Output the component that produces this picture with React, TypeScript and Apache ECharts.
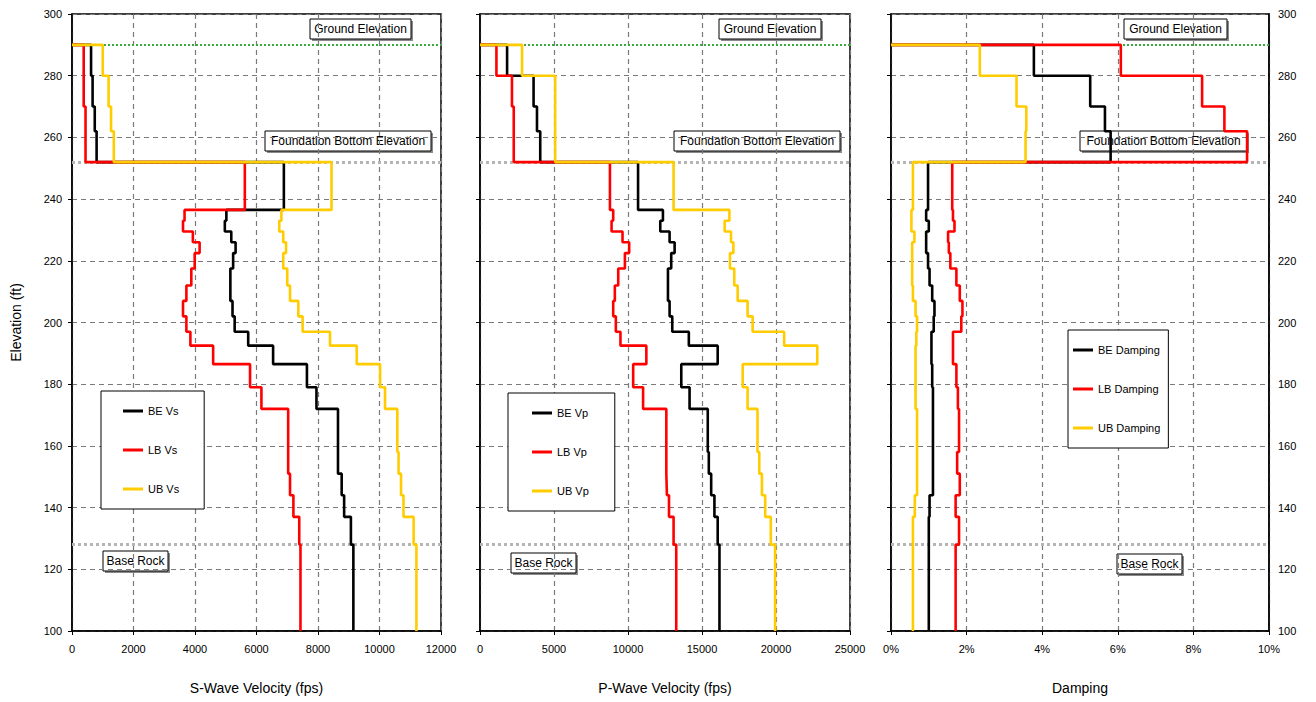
import React, { useEffect, useRef } from "react";
import * as echarts from "echarts";

// Layer tops (elevation, ft), top-down; the last layer ends at profileBottom
const layerTops = [290, 280, 270, 262, 252, 236.5, 233, 229.5, 226, 222.5, 217.5, 212, 207, 202, 197, 192.5, 186.5, 179, 172, 165, 158, 151, 144, 137, 128];
const profileBottom = 100;

// S-wave velocity (fps)
const vsBE = [620, 670, 740, 800, 6890, 5020, 4970, 5180, 5320, 5240, 5150, 5150, 5220, 5290, 5730, 6540, 7640, 7950, 8650, 8650, 8650, 8770, 8850, 9070, 9150];
const vsLB = [380, 380, 440, 440, 5620, 3660, 3610, 3930, 4150, 3990, 3880, 3720, 3610, 3720, 3850, 4590, 5790, 6160, 7030, 7030, 7030, 7090, 7200, 7390, 7430];
const vsUB = [1000, 1190, 1270, 1360, 8440, 6810, 6740, 6870, 6960, 6870, 7000, 7090, 7360, 7500, 8390, 9260, 10020, 10180, 10580, 10580, 10620, 10700, 10780, 11110, 11200];

// P-wave velocity (fps)
const vpBE = [1830, 3620, 3850, 4070, 10680, 12360, 12180, 12810, 13150, 12920, 12700, 12700, 12810, 12990, 14110, 16060, 13600, 14160, 15390, 15390, 15460, 15620, 15840, 16060, 16180];
const vpLB = [1110, 2160, 2280, 2280, 8780, 9000, 8890, 9630, 10080, 9790, 9340, 9110, 9000, 9180, 9490, 11240, 10350, 11020, 12590, 12590, 12590, 12630, 12770, 13080, 13260];
const vpUB = [2840, 5080, 5080, 5080, 13080, 16850, 16530, 16960, 17120, 16890, 17180, 17410, 18080, 18420, 20550, 22790, 17750, 18080, 18750, 18750, 18870, 19050, 19270, 19650, 19940];

// Damping (%)
const dBE = [3.78, 5.27, 5.66, 5.81, 0.98, 0.93, 1.0, 0.93, 0.93, 0.98, 1.02, 1.09, 1.15, 1.13, 1.07, 1.07, 1.09, 1.11, 1.11, 1.11, 1.11, 1.11, 1.02, 1.0, 1.0];
const dLB = [6.08, 8.23, 8.82, 9.42, 1.62, 1.64, 1.68, 1.51, 1.53, 1.57, 1.73, 1.82, 1.89, 1.86, 1.64, 1.64, 1.73, 1.77, 1.8, 1.8, 1.75, 1.82, 1.71, 1.8, 1.71];
const dUB = [2.35, 3.32, 3.58, 3.56, 0.58, 0.54, 0.54, 0.62, 0.56, 0.56, 0.56, 0.58, 0.65, 0.69, 0.67, 0.65, 0.65, 0.65, 0.69, 0.69, 0.69, 0.69, 0.63, 0.58, 0.58];

// Reference elevations
const groundElev = 290;
const foundationElev = 252;
const baseRockElev = 128;

// Axis settings
const elevMin = 100;
const elevMax = 300;
const elevStep = 20;
const vsTicks = { min: 0, max: 12000, interval: 2000 };
const vpTicks = { min: 0, max: 25000, interval: 5000 };
const dTicks = { min: 0, max: 10, interval: 2 };

const FONT = "'Liberation Sans', Arial, sans-serif";

// annotation boxes layout (pixels)
const notes = [
  { text: "Ground Elevation", x: 310, y: 19, w: 101, h: 20 },
  { text: "Foundation Bottom Elevation", x: 265, y: 131, w: 166, h: 20 },
  { text: "Base Rock", x: 103, y: 551, w: 65, h: 20 },
  { text: "Ground Elevation", x: 719, y: 19, w: 102, h: 20 },
  { text: "Foundation Bottom Elevation", x: 674, y: 131, w: 166, h: 20 },
  { text: "Base Rock", x: 511, y: 553, w: 65, h: 20 },
  { text: "Ground Elevation", x: 1124, y: 19, w: 103, h: 20 },
  { text: "Foundation Bottom Elevation", x: 1080, y: 131, w: 167, h: 20 },
  { text: "Base Rock", x: 1117, y: 554, w: 65, h: 20 },
];

function profile(values: number[]) {
  const pts: number[][] = [[0, layerTops[0]]];
  values.forEach((v, i) => {
    const top = layerTops[i];
    const bot = i + 1 < layerTops.length ? layerTops[i + 1] : profileBottom;
    pts.push([v, top], [v, bot]);
  });
  return pts;
}

export default function App() {
  const ref = useRef<HTMLDivElement>(null);
  useEffect(() => {
    if (!ref.current) return;
    const chart = echarts.init(ref.current, null, { renderer: "svg" });

    const grids = [
      { left: 72, top: 14, width: 369, height: 617 },
      { left: 480, top: 14, width: 370, height: 617 },
      { left: 891, top: 14, width: 378, height: 617 },
    ].map((g) => ({ ...g, show: true, borderColor: "#000", borderWidth: 1.5, backgroundColor: "#fff" }));

    const splitLine = { show: true, lineStyle: { color: "#7a7a7a", type: [5, 4] as any, width: 1.2 } };
    const axisLine = { show: true, onZero: false, lineStyle: { color: "#000", width: 1.5 } };
    const axisLabel = { color: "#000", fontSize: 11, fontFamily: FONT };
    const nameStyle = { color: "#000", fontSize: 14, fontFamily: FONT };

    const mkX = (gi: number, t: any, name: string, suffix: string) => ({
      type: "value",
      gridIndex: gi,
      min: t.min,
      max: t.max,
      interval: t.interval,
      name,
      nameLocation: "middle",
      nameGap: 50,
      nameTextStyle: nameStyle,
      axisLine,
      axisTick: { show: true, inside: false, length: 4, lineStyle: { color: "#000" } },
      axisLabel: { ...axisLabel, margin: 12, formatter: (v: number) => String(v) + suffix },
      splitLine,
    });

    const mkY = (gi: number, opts: any) => ({
      type: "value",
      gridIndex: gi,
      min: elevMin,
      max: elevMax,
      interval: elevStep,
      axisLine,
      axisTick: { show: true, inside: false, length: 4, lineStyle: { color: "#000" } },
      axisLabel: { ...axisLabel, margin: 10, formatter: (v: number) => String(v) },
      splitLine,
      ...opts,
    });

    const xAxis = [
      mkX(0, vsTicks, "S-Wave Velocity (fps)", ""),
      mkX(1, vpTicks, "P-Wave Velocity (fps)", ""),
      mkX(2, dTicks, "Damping", "%"),
    ];
    const yAxis = [
      mkY(0, { name: "Elevation (ft)", nameLocation: "middle", nameGap: 49, nameTextStyle: nameStyle }),
      mkY(1, { axisLabel: { show: false } }),
      mkY(2, { axisLabel: { show: false } }),
      mkY(2, {
        position: "right",
        axisTick: { show: false },
        splitLine: { show: false },
        axisLabel: { ...axisLabel, margin: 9, formatter: (v: number) => String(v) },
      }),
    ];

    const refLines = (xi: number, yi: number) => ({
      type: "line",
      xAxisIndex: xi,
      yAxisIndex: yi,
      data: [],
      silent: true,
      z: 1,
      markLine: {
        silent: true,
        symbol: "none",
        label: { show: false },
        z: 1,
        data: [
          { yAxis: groundElev, lineStyle: { color: "#3aaa3a", type: "dotted", width: 2 } },
          { yAxis: foundationElev, lineStyle: { color: "#b5b5b5", type: "dotted", width: 3 } },
          { yAxis: baseRockElev, lineStyle: { color: "#b5b5b5", type: "dotted", width: 3 } },
        ],
      },
    });

    const colors = { BE: "#000000", LB: "#ff0000", UB: "#ffcc00" };
    const mkS = (name: string, color: string, vals: number[], xi: number, yi: number) => ({
      type: "line",
      name,
      xAxisIndex: xi,
      yAxisIndex: yi,
      data: profile(vals),
      symbol: "none",
      z: 3,
      lineStyle: { color, width: 2.6 },
      itemStyle: { color },
    });

    const series: any[] = [
      refLines(0, 0),
      refLines(1, 1),
      refLines(2, 2),
      mkS("BE Vs", colors.BE, vsBE, 0, 0),
      mkS("LB Vs", colors.LB, vsLB, 0, 0),
      mkS("UB Vs", colors.UB, vsUB, 0, 0),
      mkS("BE Vp", colors.BE, vpBE, 1, 1),
      mkS("LB Vp", colors.LB, vpLB, 1, 1),
      mkS("UB Vp", colors.UB, vpUB, 1, 1),
      mkS("BE Damping", colors.BE, dBE, 2, 2),
      mkS("LB Damping", colors.LB, dLB, 2, 2),
      mkS("UB Damping", colors.UB, dUB, 2, 2),
    ];

    const mkLegend = (names: string[], left: number, top: number, padding: number[]) => ({
      data: names.map((n) => ({ name: n, icon: "rect" })),
      left,
      top,
      orient: "vertical",
      itemGap: 25,
      itemWidth: 20,
      itemHeight: 3,
      padding,
      borderColor: "#000",
      borderWidth: 1,
      backgroundColor: "#fff",
      selectedMode: false,
      textStyle: { color: "#000", fontSize: 11, fontFamily: FONT, lineHeight: 14 },
      z: 10,
    });

    const legend = [
      mkLegend(["BE Vs", "LB Vs", "UB Vs"], 101, 391, [13, 25, 13, 22]),
      mkLegend(["BE Vp", "LB Vp", "UB Vp"], 508, 393, [13, 26, 13, 24]),
      mkLegend(["BE Damping", "LB Damping", "UB Damping"], 1068, 330, [13, 8, 13, 5]),
    ];

    const graphic: any[] = [];
    notes.forEach((n) => {
      graphic.push({
        type: "group",
        x: n.x,
        y: n.y,
        z: 20,
        children: [
          { type: "rect", shape: { x: 2, y: 2, width: n.w, height: n.h }, style: { fill: "#8a8a8a" } },
          { type: "rect", shape: { x: 0, y: 0, width: n.w, height: n.h }, style: { fill: "#fff", stroke: "#000", lineWidth: 1 } },
          {
            type: "text",
            x: n.w / 2,
            y: n.h / 2,
            style: { text: n.text, fill: "#000", font: `12px ${FONT}`, textAlign: "center", textVerticalAlign: "middle" },
          },
        ],
      });
    });

    chart.setOption({
      animation: false,
      backgroundColor: "#fff",
      grid: grids,
      xAxis,
      yAxis,
      legend,
      series,
      graphic,
    });

    return () => chart.dispose();
  }, []);

  return <div ref={ref} style={{ position: "absolute", left: 0, top: 0, width: 1316, height: 702 }} />;
}
